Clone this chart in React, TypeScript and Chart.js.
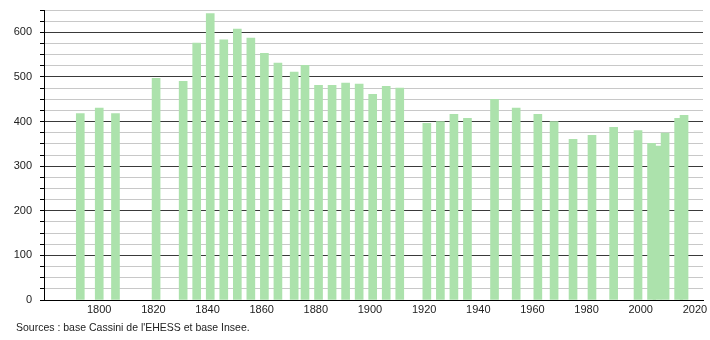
import React, { useEffect, useRef } from "react";
import { Chart, registerables } from "chart.js";

Chart.register(...registerables);

const years = [1793, 1800, 1806, 1821, 1831, 1836, 1841, 1846, 1851, 1856, 1861, 1866, 1872, 1876, 1881, 1886, 1891, 1896, 1901, 1906, 1911, 1921, 1926, 1931, 1936, 1946, 1954, 1962, 1968, 1975, 1982, 1990, 1999, 2004, 2006, 2009, 2014, 2016];
const population = [418, 430, 418, 497, 490, 576, 642, 583, 607, 587, 553, 531, 511, 526, 481, 481, 486, 484, 461, 479, 475, 396, 400, 416, 407, 450, 430, 416, 400, 360, 369, 387, 380, 351, 345, 374, 407, 414];
const xTickYears = [1800, 1820, 1840, 1860, 1880, 1900, 1920, 1940, 1960, 1980, 2000, 2020];
const sourceText = "Sources : base Cassini de l'EHESS et base Insee.";

export default function App() {
  const ref = useRef<HTMLCanvasElement | null>(null);

  useEffect(() => {
    if (!ref.current) return;
    const font = { family: "'Liberation Sans', Arial, sans-serif", size: 11 };
    const chart = new Chart(ref.current, {
      type: "bar",
      data: {
        datasets: [
          {
            data: years.map((y, i) => ({ x: y, y: population[i] })),
            backgroundColor: "rgb(172,226,172)",
            borderWidth: 0,
            barThickness: 8,
          },
        ],
      },
      options: {
        animation: false,
        responsive: false,
        layout: { padding: { top: 10, right: 7, bottom: 0, left: 0 } },
        plugins: { legend: { display: false }, tooltip: { enabled: false } },
        scales: {
          x: {
            type: "linear",
            offset: false,
            min: 1779.6,
            max: 2023,
            afterBuildTicks: (scale: any) => {
              scale.ticks = xTickYears.map((v) => ({ value: v }));
            },
            afterFit: (scale: any) => {
              scale.height = 40;
              scale.paddingLeft = 0;
              scale.paddingRight = 0;
            },
            grid: { display: false, drawTicks: false },
            border: { display: true, color: "#000", width: 1 },
            ticks: {
              autoSkip: false,
              maxRotation: 0,
              padding: 3,
              color: "#222",
              font,
              callback: (v: any) => String(v),
            },
          },
          y: {
            min: 0,
            max: 650,
            afterFit: (scale: any) => {
              scale.width = 44;
              scale.paddingTop = 0;
              scale.paddingBottom = 0;
            },
            grid: {
              color: (ctx: any) => (ctx.tick && ctx.tick.value % 100 === 0 && ctx.tick.value !== 0 ? "#3a3a3a" : "#c8c8c8"),
              tickColor: "#000",
              tickLength: 4,
              lineWidth: 1,
            },
            border: { display: true, color: "#000", width: 1 },
            ticks: {
              stepSize: 25,
              autoSkip: false,
              padding: 8,
              color: "#222",
              font,
              callback: (v: any) => (Number(v) % 100 === 0 ? String(v) : ""),
            },
          },
        },
      },
    } as any);
    return () => chart.destroy();
  }, []);

  return (
    <div style={{ position: "fixed", left: 0, top: 0, width: 710, height: 340, background: "#fff" }}>
      <canvas ref={ref} width={710} height={340} style={{ display: "block", width: 710, height: 340 }} />
      <div
        style={{
          position: "absolute",
          left: 16,
          top: 321,
          fontFamily: "'Liberation Sans', Arial, sans-serif",
          fontSize: 10.5,
          lineHeight: "12px",
          color: "#222",
          whiteSpace: "nowrap",
        }}
      >
        {sourceText}
      </div>
    </div>
  );
}
